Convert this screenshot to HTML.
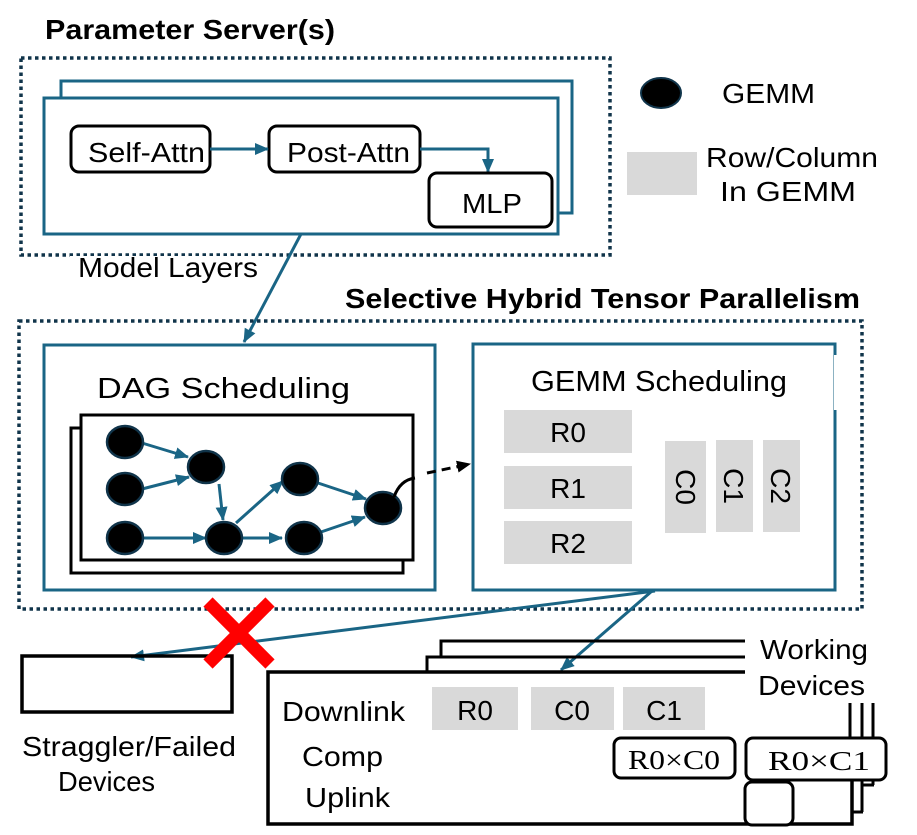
<!DOCTYPE html>
<html><head><meta charset="utf-8"><style>
html,body{margin:0;padding:0;background:#fff;}
svg{display:block;}
text{font-family:"Liberation Sans",Arial,sans-serif;fill:#000;}
.s{font-family:"Liberation Serif",serif;}
</style></head><body>
<svg width="917" height="835" viewBox="0 0 917 835" xmlns="http://www.w3.org/2000/svg">
<defs>
<marker id="ab2" markerWidth="14" markerHeight="12" refX="13" refY="6" orient="auto" markerUnits="userSpaceOnUse"><path d="M0,0 L14,6 L0,12 z" fill="#1a6585"/></marker>
<marker id="ak" markerWidth="14" markerHeight="12" refX="13" refY="6" orient="auto" markerUnits="userSpaceOnUse"><path d="M0,0 L14,6 L0,12 z" fill="#000"/></marker>
</defs>

<text x="45" y="39" font-size="28" font-weight="bold" textLength="290" lengthAdjust="spacingAndGlyphs">Parameter Server(s)</text>
<rect x="21" y="58" width="589" height="197" fill="none" stroke="#10344a" stroke-width="3.5" stroke-dasharray="3.5,3.5"/>
<polyline points="61,97 61,81 572,81 572,213 558,213" fill="none" stroke="#1a6585" stroke-width="3"/>
<rect x="44" y="98" width="514" height="136" fill="#fff" stroke="#1a6585" stroke-width="3"/>
<rect x="71" y="126" width="139" height="46" rx="8" fill="#fff" stroke="#000" stroke-width="3"/>
<text x="88" y="162" font-size="28" textLength="117" lengthAdjust="spacingAndGlyphs">Self-Attn</text>
<rect x="269" y="126" width="151" height="46" rx="8" fill="#fff" stroke="#000" stroke-width="3"/>
<text x="287" y="162" font-size="28" textLength="123" lengthAdjust="spacingAndGlyphs">Post-Attn</text>
<line x1="210" y1="149" x2="268" y2="149" stroke="#1a6585" stroke-width="3" marker-end="url(#ab2)"/>
<polyline points="420,149 488,149 488,172" fill="none" stroke="#1a6585" stroke-width="3" marker-end="url(#ab2)"/>
<rect x="429" y="173" width="123" height="54" rx="8" fill="#fff" stroke="#000" stroke-width="3"/>
<text x="462" y="213" font-size="28" textLength="60" lengthAdjust="spacingAndGlyphs">MLP</text>
<rect x="70" y="256" width="200" height="28" fill="#fff"/>
<text x="78" y="277" font-size="28" textLength="180" lengthAdjust="spacingAndGlyphs">Model Layers</text>
<line x1="301" y1="234" x2="244" y2="342" stroke="#1a6585" stroke-width="3" marker-end="url(#ab2)"/>

<ellipse cx="661" cy="93" rx="20" ry="15" fill="#000" stroke="#10344a" stroke-width="2"/>
<text x="722" y="103" font-size="28" textLength="93" lengthAdjust="spacingAndGlyphs">GEMM</text>
<rect x="627" y="152" width="70" height="43" fill="#d9d9d9"/>
<text x="706" y="167" font-size="28" textLength="172" lengthAdjust="spacingAndGlyphs">Row/Column</text>
<text x="720" y="201" font-size="28" textLength="136" lengthAdjust="spacingAndGlyphs">In GEMM</text>

<text x="345" y="308" font-size="28" font-weight="bold" textLength="515" lengthAdjust="spacingAndGlyphs">Selective Hybrid Tensor Parallelism</text>
<rect x="19" y="321" width="843" height="288" fill="none" stroke="#10344a" stroke-width="3.5" stroke-dasharray="3.5,3.5"/>

<rect x="44" y="345" width="391" height="245" fill="#fff" stroke="#1a6585" stroke-width="3"/>
<text x="97" y="398" font-size="29" textLength="253" lengthAdjust="spacingAndGlyphs">DAG Scheduling</text>
<rect x="71" y="428" width="332" height="145" fill="#fff" stroke="#000" stroke-width="3"/>
<rect x="81" y="415" width="332" height="145" fill="#fff" stroke="#000" stroke-width="3"/>
<g stroke="#1a6585" stroke-width="3" fill="none" marker-end="url(#ab2)">
<line x1="142" y1="443" x2="188" y2="457"/>
<line x1="142" y1="489" x2="189" y2="477"/>
<line x1="143" y1="538" x2="206" y2="538"/>
<line x1="219" y1="484" x2="223" y2="520"/>
<line x1="236" y1="523" x2="283" y2="481"/>
<line x1="242" y1="538" x2="282" y2="538"/>
<line x1="318" y1="483" x2="366" y2="499"/>
<line x1="318" y1="533" x2="365" y2="517"/>
</g>
<g fill="#000" stroke="#10344a" stroke-width="2.5">
<ellipse cx="125" cy="442" rx="18" ry="16"/>
<ellipse cx="125" cy="489" rx="18" ry="16"/>
<ellipse cx="125" cy="538" rx="18" ry="16"/>
<ellipse cx="206" cy="467" rx="18" ry="16"/>
<ellipse cx="224" cy="538" rx="18" ry="16"/>
<ellipse cx="300" cy="479" rx="18" ry="16"/>
<ellipse cx="304" cy="538" rx="18" ry="16"/>
<ellipse cx="383" cy="508" rx="18" ry="16"/>
</g>
<path d="M394,497 Q400,480 415,478" fill="none" stroke="#000" stroke-width="3"/>
<line x1="427" y1="473" x2="470" y2="464" stroke="#000" stroke-width="3" stroke-dasharray="9,6" marker-end="url(#ak)"/>

<rect x="473" y="344" width="362" height="246" fill="#fff" stroke="#1a6585" stroke-width="3"/>
<line x1="836" y1="355" x2="836" y2="410" stroke="#fff" stroke-width="4"/>
<text x="531" y="391" font-size="29" textLength="256" lengthAdjust="spacingAndGlyphs">GEMM Scheduling</text>
<rect x="504" y="410" width="128" height="43" fill="#d9d9d9"/>
<text x="568" y="442" font-size="28" text-anchor="middle">R0</text>
<rect x="504" y="466" width="128" height="43" fill="#d9d9d9"/>
<text x="568" y="498" font-size="28" text-anchor="middle">R1</text>
<rect x="504" y="521" width="128" height="43" fill="#d9d9d9"/>
<text x="568" y="553" font-size="28" text-anchor="middle">R2</text>
<rect x="665" y="441" width="41" height="92" fill="#d9d9d9"/>
<rect x="716" y="440" width="37" height="92" fill="#d9d9d9"/>
<rect x="763" y="440" width="37" height="92" fill="#d9d9d9"/>
<text transform="translate(676,487) rotate(90)" font-size="28" text-anchor="middle">C0</text>
<text transform="translate(724,486) rotate(90)" font-size="28" text-anchor="middle">C1</text>
<text transform="translate(771,486) rotate(90)" font-size="28" text-anchor="middle">C2</text>

<line x1="655" y1="591" x2="131" y2="657" stroke="#1a6585" stroke-width="3" marker-end="url(#ab2)"/>
<line x1="652" y1="591" x2="561" y2="670" stroke="#1a6585" stroke-width="3" marker-end="url(#ab2)"/>

<rect x="22" y="656" width="210" height="56" fill="none" stroke="#000" stroke-width="3.5"/>
<text x="22" y="756" font-size="28" textLength="214" lengthAdjust="spacingAndGlyphs">Straggler/Failed</text>
<text x="58" y="791" font-size="28" textLength="97" lengthAdjust="spacingAndGlyphs">Devices</text>

<g stroke="#ff0000" stroke-width="13">
<line x1="208" y1="602" x2="270" y2="664"/>
<line x1="270" y1="602" x2="208" y2="664"/>
</g>

<polyline points="441,656 441,641 745,641" fill="none" stroke="#000" stroke-width="3"/>
<polyline points="427,672 427,657 745,657" fill="none" stroke="#000" stroke-width="3"/>
<line x1="850" y1="703" x2="850" y2="740" stroke="#000" stroke-width="3"/>
<line x1="862" y1="703" x2="862" y2="812" stroke="#000" stroke-width="3"/>
<line x1="873" y1="703" x2="873" y2="785" stroke="#000" stroke-width="3"/>
<line x1="852" y1="812" x2="863" y2="812" stroke="#000" stroke-width="3"/>
<line x1="862" y1="785" x2="874" y2="785" stroke="#000" stroke-width="3"/>
<polyline points="745,672 268,672 268,824 852,824 852,738" fill="none" stroke="#000" stroke-width="3.5"/>
<text x="760" y="659" font-size="28" textLength="108" lengthAdjust="spacingAndGlyphs">Working</text>
<text x="758" y="695" font-size="28" textLength="107" lengthAdjust="spacingAndGlyphs">Devices</text>
<text x="282" y="721" font-size="28" textLength="123" lengthAdjust="spacingAndGlyphs">Downlink</text>
<rect x="432" y="687" width="86" height="43" fill="#d9d9d9"/>
<text x="475" y="720" font-size="28" text-anchor="middle">R0</text>
<rect x="531" y="687" width="83" height="43" fill="#d9d9d9"/>
<text x="572" y="720" font-size="28" text-anchor="middle">C0</text>
<rect x="623" y="687" width="82" height="43" fill="#d9d9d9"/>
<text x="664" y="720" font-size="28" text-anchor="middle">C1</text>
<text x="302" y="766" font-size="28" textLength="81" lengthAdjust="spacingAndGlyphs">Comp</text>
<text x="305" y="807" font-size="28" textLength="85" lengthAdjust="spacingAndGlyphs">Uplink</text>
<rect x="614" y="738" width="121" height="40" rx="7" fill="#fff" stroke="#000" stroke-width="3"/>
<text x="628" y="769" font-size="27" class="s" textLength="92" lengthAdjust="spacingAndGlyphs">R0×C0</text>
<rect x="746" y="738" width="140" height="42" rx="7" fill="#fff" stroke="#000" stroke-width="3"/>
<text x="768" y="770" font-size="27" class="s" textLength="102" lengthAdjust="spacingAndGlyphs">R0×C1</text>
<rect x="745" y="782" width="48" height="43" rx="7" fill="#fff" stroke="#000" stroke-width="3"/>
</svg>
</body></html>
